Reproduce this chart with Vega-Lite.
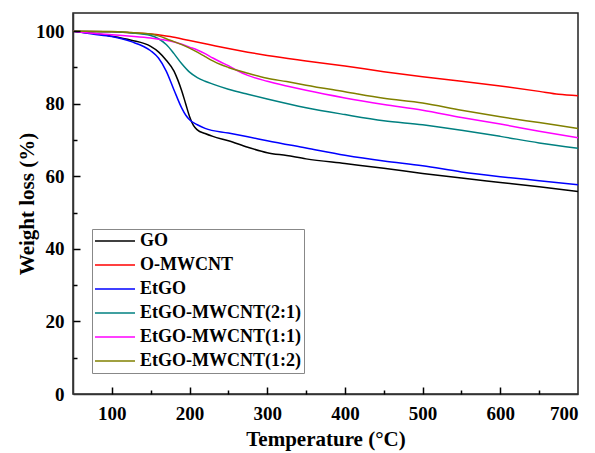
{
  "$schema": "https://vega.github.io/schema/vega-lite/v6.json",
  "width": 505,
  "height": 381,
  "autosize": {"type": "none"},
  "padding": {"left": 73, "top": 13, "right": 17, "bottom": 59},
  "background": "white",
  "config": {
    "font": "Liberation Serif",
    "view": {"stroke": "#222222", "strokeWidth": 1.5},
    "axis": {
      "domainColor": "#333333",
      "domainWidth": 1.5,
      "tickColor": "#111111",
      "tickWidth": 1.5,
      "grid": false,
      "labelFont": "Liberation Serif",
      "labelFontWeight": "bold",
      "labelFontSize": 19,
      "labelColor": "black",
      "titleFont": "Liberation Serif",
      "titleFontWeight": "bold",
      "titleFontSize": 21,
      "titleColor": "black"
    }
  },
  "data": {
    "values": [
      {"T": 50, "w": 100, "s": "GO"}, {"T": 75, "w": 99.4, "s": "GO"}, {"T": 100, "w": 98.6, "s": "GO"},
      {"T": 125, "w": 97.5, "s": "GO"}, {"T": 150, "w": 95.8, "s": "GO"}, {"T": 160, "w": 94.3, "s": "GO"},
      {"T": 170, "w": 92.0, "s": "GO"}, {"T": 180, "w": 89.0, "s": "GO"}, {"T": 185, "w": 86.5, "s": "GO"},
      {"T": 190, "w": 83.5, "s": "GO"}, {"T": 195, "w": 80.0, "s": "GO"}, {"T": 200, "w": 76.5, "s": "GO"},
      {"T": 205, "w": 74.0, "s": "GO"}, {"T": 210, "w": 72.8, "s": "GO"}, {"T": 220, "w": 71.8, "s": "GO"},
      {"T": 230, "w": 71.0, "s": "GO"}, {"T": 250, "w": 69.8, "s": "GO"}, {"T": 275, "w": 68.0, "s": "GO"},
      {"T": 300, "w": 66.5, "s": "GO"}, {"T": 325, "w": 65.7, "s": "GO"}, {"T": 350, "w": 64.8, "s": "GO"},
      {"T": 400, "w": 63.5, "s": "GO"}, {"T": 450, "w": 62.2, "s": "GO"}, {"T": 500, "w": 60.8, "s": "GO"},
      {"T": 550, "w": 59.5, "s": "GO"}, {"T": 600, "w": 58.3, "s": "GO"}, {"T": 650, "w": 57.1, "s": "GO"},
      {"T": 700, "w": 55.8, "s": "GO"},

      {"T": 50, "w": 100, "s": "O-MWCNT"}, {"T": 100, "w": 99.8, "s": "O-MWCNT"}, {"T": 150, "w": 99.2, "s": "O-MWCNT"},
      {"T": 175, "w": 98.5, "s": "O-MWCNT"}, {"T": 200, "w": 97.4, "s": "O-MWCNT"}, {"T": 225, "w": 96.3, "s": "O-MWCNT"},
      {"T": 250, "w": 95.2, "s": "O-MWCNT"}, {"T": 275, "w": 94.2, "s": "O-MWCNT"}, {"T": 300, "w": 93.3, "s": "O-MWCNT"},
      {"T": 350, "w": 91.8, "s": "O-MWCNT"}, {"T": 400, "w": 90.4, "s": "O-MWCNT"}, {"T": 450, "w": 88.8, "s": "O-MWCNT"},
      {"T": 500, "w": 87.4, "s": "O-MWCNT"}, {"T": 550, "w": 86.2, "s": "O-MWCNT"}, {"T": 600, "w": 84.9, "s": "O-MWCNT"},
      {"T": 650, "w": 83.4, "s": "O-MWCNT"}, {"T": 675, "w": 82.6, "s": "O-MWCNT"}, {"T": 700, "w": 82.2, "s": "O-MWCNT"},

      {"T": 50, "w": 100, "s": "EtGO"}, {"T": 75, "w": 99.2, "s": "EtGO"}, {"T": 100, "w": 98.5, "s": "EtGO"},
      {"T": 125, "w": 97.1, "s": "EtGO"}, {"T": 150, "w": 94.6, "s": "EtGO"}, {"T": 160, "w": 92.6, "s": "EtGO"},
      {"T": 170, "w": 89.0, "s": "EtGO"}, {"T": 180, "w": 83.8, "s": "EtGO"}, {"T": 190, "w": 78.8, "s": "EtGO"},
      {"T": 195, "w": 76.9, "s": "EtGO"}, {"T": 200, "w": 75.6, "s": "EtGO"}, {"T": 210, "w": 74.2, "s": "EtGO"},
      {"T": 220, "w": 73.2, "s": "EtGO"}, {"T": 250, "w": 71.9, "s": "EtGO"}, {"T": 275, "w": 70.9, "s": "EtGO"},
      {"T": 300, "w": 69.8, "s": "EtGO"}, {"T": 350, "w": 67.8, "s": "EtGO"}, {"T": 400, "w": 65.8, "s": "EtGO"},
      {"T": 450, "w": 64.2, "s": "EtGO"}, {"T": 500, "w": 62.9, "s": "EtGO"}, {"T": 550, "w": 61.2, "s": "EtGO"},
      {"T": 600, "w": 59.9, "s": "EtGO"}, {"T": 650, "w": 58.8, "s": "EtGO"}, {"T": 700, "w": 57.7, "s": "EtGO"},

      {"T": 50, "w": 100, "s": "EtGO-MWCNT(2:1)"}, {"T": 100, "w": 99.8, "s": "EtGO-MWCNT(2:1)"}, {"T": 125, "w": 99.5, "s": "EtGO-MWCNT(2:1)"},
      {"T": 150, "w": 98.8, "s": "EtGO-MWCNT(2:1)"}, {"T": 160, "w": 97.9, "s": "EtGO-MWCNT(2:1)"}, {"T": 170, "w": 96.3, "s": "EtGO-MWCNT(2:1)"},
      {"T": 180, "w": 93.8, "s": "EtGO-MWCNT(2:1)"}, {"T": 190, "w": 91.0, "s": "EtGO-MWCNT(2:1)"}, {"T": 200, "w": 88.7, "s": "EtGO-MWCNT(2:1)"},
      {"T": 210, "w": 87.2, "s": "EtGO-MWCNT(2:1)"}, {"T": 220, "w": 86.2, "s": "EtGO-MWCNT(2:1)"}, {"T": 230, "w": 85.4, "s": "EtGO-MWCNT(2:1)"},
      {"T": 250, "w": 84.0, "s": "EtGO-MWCNT(2:1)"}, {"T": 275, "w": 82.6, "s": "EtGO-MWCNT(2:1)"}, {"T": 300, "w": 81.3, "s": "EtGO-MWCNT(2:1)"},
      {"T": 350, "w": 78.9, "s": "EtGO-MWCNT(2:1)"}, {"T": 400, "w": 77.0, "s": "EtGO-MWCNT(2:1)"}, {"T": 450, "w": 75.3, "s": "EtGO-MWCNT(2:1)"},
      {"T": 500, "w": 74.2, "s": "EtGO-MWCNT(2:1)"}, {"T": 550, "w": 72.7, "s": "EtGO-MWCNT(2:1)"}, {"T": 600, "w": 71.0, "s": "EtGO-MWCNT(2:1)"},
      {"T": 650, "w": 69.2, "s": "EtGO-MWCNT(2:1)"}, {"T": 700, "w": 67.7, "s": "EtGO-MWCNT(2:1)"},

      {"T": 50, "w": 100, "s": "EtGO-MWCNT(1:1)"}, {"T": 75, "w": 99.4, "s": "EtGO-MWCNT(1:1)"}, {"T": 100, "w": 99.0, "s": "EtGO-MWCNT(1:1)"},
      {"T": 125, "w": 98.6, "s": "EtGO-MWCNT(1:1)"}, {"T": 150, "w": 98.1, "s": "EtGO-MWCNT(1:1)"}, {"T": 175, "w": 97.3, "s": "EtGO-MWCNT(1:1)"},
      {"T": 190, "w": 96.4, "s": "EtGO-MWCNT(1:1)"}, {"T": 200, "w": 95.6, "s": "EtGO-MWCNT(1:1)"}, {"T": 210, "w": 94.8, "s": "EtGO-MWCNT(1:1)"},
      {"T": 220, "w": 93.8, "s": "EtGO-MWCNT(1:1)"}, {"T": 230, "w": 92.6, "s": "EtGO-MWCNT(1:1)"}, {"T": 240, "w": 91.5, "s": "EtGO-MWCNT(1:1)"},
      {"T": 250, "w": 90.5, "s": "EtGO-MWCNT(1:1)"}, {"T": 260, "w": 89.3, "s": "EtGO-MWCNT(1:1)"}, {"T": 275, "w": 87.8, "s": "EtGO-MWCNT(1:1)"},
      {"T": 300, "w": 86.2, "s": "EtGO-MWCNT(1:1)"}, {"T": 325, "w": 84.9, "s": "EtGO-MWCNT(1:1)"}, {"T": 350, "w": 83.7, "s": "EtGO-MWCNT(1:1)"},
      {"T": 400, "w": 81.6, "s": "EtGO-MWCNT(1:1)"}, {"T": 450, "w": 79.8, "s": "EtGO-MWCNT(1:1)"}, {"T": 500, "w": 78.2, "s": "EtGO-MWCNT(1:1)"},
      {"T": 550, "w": 76.2, "s": "EtGO-MWCNT(1:1)"}, {"T": 600, "w": 74.4, "s": "EtGO-MWCNT(1:1)"}, {"T": 650, "w": 72.4, "s": "EtGO-MWCNT(1:1)"},
      {"T": 700, "w": 70.6, "s": "EtGO-MWCNT(1:1)"},

      {"T": 50, "w": 100, "s": "EtGO-MWCNT(1:2)"}, {"T": 100, "w": 99.9, "s": "EtGO-MWCNT(1:2)"}, {"T": 125, "w": 99.6, "s": "EtGO-MWCNT(1:2)"},
      {"T": 150, "w": 99.2, "s": "EtGO-MWCNT(1:2)"}, {"T": 160, "w": 98.7, "s": "EtGO-MWCNT(1:2)"}, {"T": 175, "w": 97.5, "s": "EtGO-MWCNT(1:2)"},
      {"T": 190, "w": 96.3, "s": "EtGO-MWCNT(1:2)"}, {"T": 200, "w": 95.3, "s": "EtGO-MWCNT(1:2)"}, {"T": 210, "w": 94.2, "s": "EtGO-MWCNT(1:2)"},
      {"T": 220, "w": 93.0, "s": "EtGO-MWCNT(1:2)"}, {"T": 230, "w": 91.8, "s": "EtGO-MWCNT(1:2)"}, {"T": 240, "w": 90.8, "s": "EtGO-MWCNT(1:2)"},
      {"T": 250, "w": 90.0, "s": "EtGO-MWCNT(1:2)"}, {"T": 260, "w": 89.3, "s": "EtGO-MWCNT(1:2)"}, {"T": 275, "w": 88.4, "s": "EtGO-MWCNT(1:2)"},
      {"T": 300, "w": 87.0, "s": "EtGO-MWCNT(1:2)"}, {"T": 325, "w": 86.1, "s": "EtGO-MWCNT(1:2)"}, {"T": 350, "w": 85.1, "s": "EtGO-MWCNT(1:2)"},
      {"T": 400, "w": 83.3, "s": "EtGO-MWCNT(1:2)"}, {"T": 450, "w": 81.5, "s": "EtGO-MWCNT(1:2)"}, {"T": 500, "w": 80.2, "s": "EtGO-MWCNT(1:2)"},
      {"T": 550, "w": 78.2, "s": "EtGO-MWCNT(1:2)"}, {"T": 600, "w": 76.4, "s": "EtGO-MWCNT(1:2)"}, {"T": 650, "w": 74.8, "s": "EtGO-MWCNT(1:2)"},
      {"T": 700, "w": 73.2, "s": "EtGO-MWCNT(1:2)"}
    ]
  },
  "resolve": {"axis": {"x": "independent", "y": "independent"}},
  "layer": [
    {
      "description": "Inward major ticks: an unlabelled axis pulled into the plot by its tick length.",
      "mark": {"type": "line", "strokeOpacity": 0},
      "encoding": {
        "x": {
          "field": "T",
          "type": "quantitative",
          "scale": {"domain": [50, 700], "nice": false, "zero": false},
          "axis": {
            "orient": "bottom",
            "title": null,
            "values": [100, 200, 300, 400, 500, 600],
            "labels": false,
            "domain": false,
            "tickColor": "#000000",
            "tickSize": 7,
            "offset": -7,
            "zindex": 1
          }
        },
        "y": {
          "field": "w",
          "type": "quantitative",
          "scale": {"domain": [0, 105], "nice": false},
          "axis": {
            "orient": "left",
            "title": null,
            "values": [20, 40, 60, 80, 100],
            "labels": false,
            "domain": false,
            "tickColor": "#000000",
            "tickSize": 7,
            "offset": -7,
            "zindex": 1
          }
        }
      }
    },
    {
      "description": "Inward minor ticks.",
      "mark": {"type": "line", "strokeOpacity": 0},
      "encoding": {
        "x": {
          "field": "T",
          "type": "quantitative",
          "scale": {"domain": [50, 700], "nice": false, "zero": false},
          "axis": {
            "orient": "bottom",
            "title": null,
            "values": [150, 250, 350, 450, 550, 650],
            "labels": false,
            "domain": false,
            "tickColor": "#000000",
            "tickSize": 4,
            "offset": -4,
            "zindex": 1
          }
        },
        "y": {
          "field": "w",
          "type": "quantitative",
          "scale": {"domain": [0, 105], "nice": false},
          "axis": {
            "orient": "left",
            "title": null,
            "values": [10, 30, 50, 70, 90],
            "labels": false,
            "domain": false,
            "tickColor": "#000000",
            "tickSize": 4,
            "offset": -4,
            "zindex": 1
          }
        }
      }
    },
    {
      "mark": {"type": "line", "interpolate": "monotone", "strokeWidth": 1.5},
      "encoding": {
        "x": {
          "field": "T",
          "type": "quantitative",
          "scale": {"domain": [50, 700], "nice": false, "zero": false},
          "axis": {
            "orient": "bottom",
            "title": "Temperature (\u00b0C)",
            "values": [100, 200, 300, 400, 500, 600, 700],
            "ticks": false,
            "labelPadding": 10,
            "titlePadding": 5
          }
        },
        "y": {
          "field": "w",
          "type": "quantitative",
          "scale": {"domain": [0, 105], "nice": false},
          "axis": {
            "orient": "left",
            "title": "Weight loss (%)",
            "values": [0, 20, 40, 60, 80, 100],
            "ticks": false,
            "labelPadding": 9,
            "titlePadding": -2
          }
        },
        "color": {
          "field": "s",
          "type": "nominal",
          "sort": ["GO", "O-MWCNT", "EtGO", "EtGO-MWCNT(2:1)", "EtGO-MWCNT(1:1)", "EtGO-MWCNT(1:2)"],
          "scale": {
            "domain": ["GO", "O-MWCNT", "EtGO", "EtGO-MWCNT(2:1)", "EtGO-MWCNT(1:1)", "EtGO-MWCNT(1:2)"],
            "range": ["#000000", "#ff0000", "#0000ff", "#008080", "#ff00ff", "#808000"]
          },
          "legend": {
            "title": null,
            "orient": "none",
            "legendX": 19,
            "legendY": 216,
            "symbolType": "M-2.5,0H2.5",
            "symbolSize": 256,
            "symbolStrokeWidth": 1.5,
            "symbolOffset": 11,
            "labelOffset": 16,
            "labelLimit": 400,
            "labelFont": "Liberation Serif",
            "labelFontWeight": "bold",
            "labelFontSize": 18,
            "labelColor": "black",
            "rowPadding": 6,
            "padding": 3,
            "strokeColor": "#888888",
            "fillColor": "white"
          }
        }
      }
    }
  ]
}
